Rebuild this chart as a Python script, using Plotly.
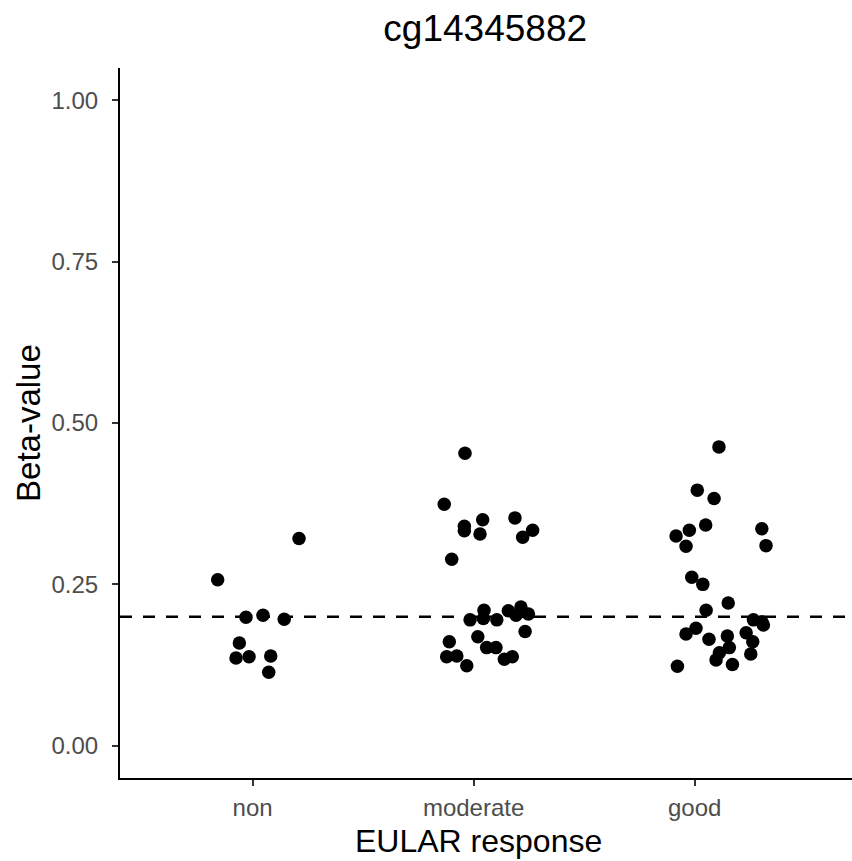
import plotly.graph_objects as go

categories = ["non", "moderate", "good"]

# jitter offsets (category units) and beta values
non_jitter = [-0.158, 0.210, -0.030, 0.047, 0.143, -0.060, -0.075, -0.016, 0.082, 0.073]
non_beta = [0.257, 0.321, 0.199, 0.202, 0.196, 0.159, 0.136, 0.138, 0.139, 0.114]

moderate_jitter = [-0.039, -0.133, -0.042, -0.042, 0.041, 0.029, 0.187, 0.267, 0.222, -0.099,
                   -0.016, 0.047, 0.044, 0.105, 0.157, 0.192, 0.214, 0.248, 0.233, -0.110,
                   0.019, -0.122, -0.076, -0.031, 0.059, 0.101, 0.139, 0.175]
moderate_beta = [0.453, 0.374, 0.340, 0.333, 0.350, 0.328, 0.353, 0.334, 0.323, 0.289,
                 0.195, 0.210, 0.197, 0.195, 0.209, 0.202, 0.215, 0.204, 0.177, 0.161,
                 0.169, 0.138, 0.139, 0.124, 0.152, 0.152, 0.134, 0.138]

good_jitter = [0.110, 0.012, 0.088, 0.050, -0.024, -0.084, -0.039, 0.304, 0.323, -0.013,
               0.037, 0.152, 0.052, 0.266, 0.311, 0.006, -0.039, 0.065, 0.148, 0.157,
               0.112, 0.097, 0.171, -0.078, 0.233, 0.263, 0.254, 0.304]
good_beta = [0.463, 0.396, 0.383, 0.342, 0.334, 0.325, 0.309, 0.336, 0.310, 0.261,
             0.250, 0.221, 0.210, 0.195, 0.187, 0.182, 0.173, 0.165, 0.170, 0.152,
             0.144, 0.133, 0.126, 0.123, 0.175, 0.161, 0.142, 0.192]

threshold = 0.2
y_ticks = [0.0, 0.25, 0.5, 0.75, 1.0]
y_tick_labels = ["0.00", "0.25", "0.50", "0.75", "1.00"]

groups = [(non_jitter, non_beta), (moderate_jitter, moderate_beta), (good_jitter, good_beta)]

fig = go.Figure()
for i, (jit, beta) in enumerate(groups):
    fig.add_trace(go.Scatter(
        x=[i + 1 + j for j in jit], y=beta, mode="markers",
        marker=dict(color="black", size=13.5, line=dict(width=0)),
        showlegend=False, hoverinfo="skip"))

fig.add_shape(type="line", xref="paper", x0=0, x1=1, yref="y", y0=threshold, y1=threshold,
              line=dict(color="black", width=2.5, dash="12px,11px"), layer="below")

font_family = "Liberation Sans, Arial, sans-serif"
fig.update_layout(
    width=852, height=861,
    paper_bgcolor="white", plot_bgcolor="white",
    margin=dict(l=120, r=0, t=68, b=83),
    font=dict(family=font_family),
    title=dict(text="cg14345882", x=0.5695, xanchor="center", y=0.9675, yanchor="middle",
               font=dict(size=37, color="black", family=font_family)),
    xaxis=dict(range=[0.4, 3.712], tickvals=[1, 2, 3], ticktext=categories,
               showline=True, linecolor="black", linewidth=2, showgrid=False, zeroline=False,
               ticks="outside", ticklen=6, tickwidth=1.5, tickcolor="#333333",
               ticklabelstandoff=1,
               tickfont=dict(size=24, color="#4D4D4D")),
    yaxis=dict(range=[-0.05, 1.05], tickvals=y_ticks, ticktext=y_tick_labels,
               showline=True, linecolor="black", linewidth=2, showgrid=False, zeroline=False,
               ticks="outside", ticklen=6, tickwidth=1.5, tickcolor="#333333",
               ticklabelstandoff=9,
               tickfont=dict(size=24, color="#4D4D4D")),
    annotations=[
        dict(text="EULAR response", xref="paper", yref="paper", x=0.49, y=-0.0885,
             xanchor="center", yanchor="middle", showarrow=False,
             font=dict(size=32, color="black", family=font_family)),
        dict(text="Beta-value", xref="paper", yref="paper", x=-0.1257, y=0.5,
             xanchor="center", yanchor="middle", showarrow=False, textangle=-90,
             font=dict(size=33, color="black", family=font_family)),
    ],
)

fig.write_html("out.html")
